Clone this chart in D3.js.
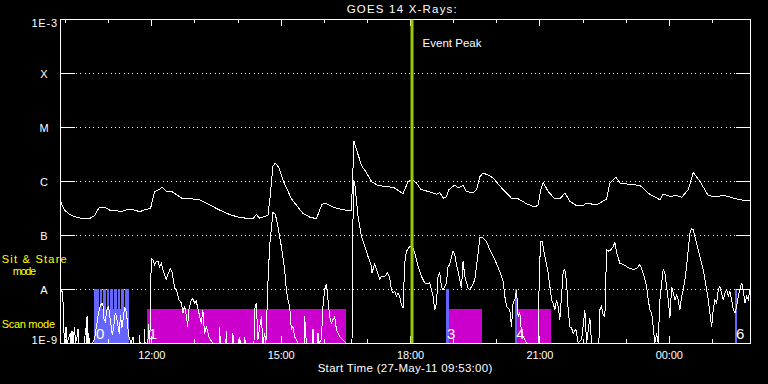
<!DOCTYPE html>
<html>
<head>
<meta charset="utf-8">
<script src="https://cdn.jsdelivr.net/npm/d3@7"></script>
<style>
  body { margin: 0; background: #000; }
  text { font-family: "Liberation Sans", Arial, sans-serif; }
</style>
</head>
<body>
<div id="chart"></div>
<script>
// time is in hours from 27-May-11 00:00, flux in W/m^2
const startHour = 9 + 53 / 60;      // 09:53:00
const endHour = startHour + 16;

const decadeValues = [1e-3, 1e-4, 1e-5, 1e-6, 1e-7, 1e-8, 1e-9];
const decadeLabels = ["1E-3", "X", "M", "C", "B", "A", "1E-9"];
const majorHours = [12, 15, 18, 21, 24];
const majorLabels = ["12:00", "15:00", "18:00", "21:00", "00:00"];
const minorHours = [10, 11, 13, 14, 16, 17, 19, 20, 22, 23, 25];

const eventPeakHour = 18.046;

// sit & stare (blue) and scan (magenta) periods
const stareBlocks = [[10.683, 11.472], [18.823, 18.899], [20.430, 20.476], [25.524, 25.587]];
const stareLabels = ["0", "3", "4", "6"];
const stareDwells = [10.683, 10.816, 10.892, 10.978, 11.054, 11.140, 11.217, 11.302, 11.379];
const scanBlocks = [[11.905, 16.520], [18.899, 19.673], [20.476, 21.280]];
const scanLabels = ["1", "", ""];
const stareLevel = 1e-8;
const scanLevel = 4.2e-9;

// 1-8 A channel
const longFlux = [
  [9.888,4.3e-7],[9.988,2.9e-7],[10.104,2.4e-7],[10.220,2.2e-7],[10.412,2.0e-7],[10.568,2.0e-7],
  [10.684,2.3e-7],[10.800,3.3e-7],[10.916,3.3e-7],[11.032,2.9e-7],[11.148,2.9e-7],[11.303,2.7e-7],
  [11.457,3.0e-7],[11.612,2.9e-7],[11.728,2.7e-7],[11.884,3.0e-7],[11.983,3.1e-7],[12.076,6.4e-7],
  [12.176,6.9e-7],[12.255,7.7e-7],[12.348,6.5e-7],[12.464,6.5e-7],[12.580,5.6e-7],[12.733,4.65e-7],
  [12.965,4.65e-7],[13.120,4.5e-7],[13.352,3.6e-7],[13.585,2.9e-7],[13.817,2.4e-7],[14.049,2.1e-7],
  [14.204,2.05e-7],[14.357,2.0e-7],[14.436,2.4e-7],[14.513,2.05e-7],[14.705,2.3e-7],[14.757,5.2e-7],
  [14.821,1.86e-6],[14.872,2.15e-6],[14.954,1.8e-6],[15.070,9.7e-7],[15.248,4.7e-7],[15.518,2.5e-7],
  [15.673,2.15e-7],[15.828,2.0e-7],[15.952,3.6e-7],[16.021,3.9e-7],[16.253,3.2e-7],[16.485,2.9e-7],
  [16.640,2.8e-7],[16.701,5.4e-6],[16.794,3.1e-6],[16.880,1.9e-6],[16.973,1.5e-6],[17.112,9.7e-7],
  [17.258,8.2e-7],[17.490,7.9e-7],[17.645,7.4e-7],[17.838,5.8e-7],[17.954,9.8e-7],[18.040,1.06e-6],
  [18.149,9.2e-7],[18.249,7.0e-7],[18.418,6.4e-7],[18.613,5.7e-7],[18.690,6.15e-7],[18.767,4.8e-7],
  [18.845,5.1e-7],[18.899,6.9e-7],[19.038,8.4e-7],[19.114,7.4e-7],[19.230,8.2e-7],[19.309,6.4e-7],
  [19.462,6.0e-7],[19.541,6.9e-7],[19.618,1.2e-6],[19.694,1.4e-6],[19.803,1.3e-6],[19.926,1.14e-6],
  [20.158,6.9e-7],[20.353,4.8e-7],[20.506,4.7e-7],[20.701,3.8e-7],[20.894,3.3e-7],[20.970,3.6e-7],
  [21.033,6.9e-7],[21.087,9.4e-7],[21.203,6.4e-7],[21.358,4.65e-7],[21.474,4.65e-7],[21.590,6.0e-7],
  [21.706,4.2e-7],[21.862,3.5e-7],[22.015,3.5e-7],[22.094,3.9e-7],[22.326,3.6e-7],[22.558,4.65e-7],
  [22.635,9.2e-7],[22.775,1.17e-6],[22.868,9.2e-7],[23.100,8.6e-7],[23.332,8.3e-7],[23.564,5.6e-7],
  [23.796,4.5e-7],[23.872,5.7e-7],[24.028,5.2e-7],[24.183,5.35e-7],[24.299,5.0e-7],[24.452,6.9e-7],
  [24.568,1.44e-6],[24.724,9.8e-7],[24.916,5.35e-7],[25.111,5.1e-7],[25.227,5.4e-7],[25.380,5.2e-7],
  [25.496,4.8e-7],[25.728,4.4e-7],[25.883,4.4e-7]
];

// 0.5-4 A channel
const shortFlux = [
  [9.888,1.98e-8],[9.907,9.7e-9],[9.948,8.4e-9],[9.965,2.4e-9],[9.988,1e-9],[10.023,2.0e-9],
  [10.046,1e-9],[10.120,1.5e-9],[10.139,1e-9],[10.162,1.7e-9],[10.185,1e-9],[10.220,2.0e-9],
  [10.243,1e-9],[10.278,1.3e-9],[10.301,1.8e-9],[10.324,1e-9],[10.452,1e-9],[10.475,1.9e-9],
  [10.498,1e-9],[10.510,3.1e-9],[10.533,1e-9],[10.545,1.5e-9],[10.568,1e-9],[10.637,1e-9],
  [10.684,1.2e-9],[10.723,1.9e-9],[10.777,3.6e-9],[10.823,5.1e-9],[10.877,5.5e-9],[10.900,2.8e-9],
  [10.932,2.5e-9],[10.979,4.4e-9],[11.009,4.7e-9],[11.055,2.5e-9],[11.095,1.4e-9],[11.132,2.1e-9],
  [11.164,3.6e-9],[11.194,3.1e-9],[11.225,2.1e-9],[11.257,1.5e-9],[11.287,3.3e-9],[11.317,1.9e-9],
  [11.350,2.8e-9],[11.380,4.7e-9],[11.426,3.6e-9],[11.457,1.9e-9],[11.480,1.3e-9],[11.535,1e-9],
  [11.577,1.3e-9],[11.600,1e-9],[11.716,1e-9],[11.728,1.4e-9],[11.740,1e-9],[11.832,1e-9],
  [11.844,1.8e-9],[11.856,1e-9],[11.921,1e-9],[11.937,2.2e-9],[11.965,1e-9],[11.983,6.3e-9],
  [12.000,3.7e-8],[12.037,3.5e-8],[12.076,2.8e-8],[12.116,3.3e-8],[12.153,3.3e-8],[12.192,2.6e-8],
  [12.231,3.0e-8],[12.285,2.1e-8],[12.348,1.5e-8],[12.385,1.85e-8],[12.440,2.35e-8],[12.487,2.0e-8],
  [12.540,1.05e-8],[12.594,9.0e-9],[12.640,6.3e-9],[12.696,5.5e-9],[12.733,3.6e-9],[12.772,4.8e-9],
  [12.812,3.3e-9],[12.842,2.0e-9],[12.872,4.1e-9],[12.928,6.3e-9],[12.965,6.6e-9],[13.004,5.5e-9],
  [13.044,5.9e-9],[13.104,3.6e-9],[13.160,2.3e-9],[13.197,4.1e-9],[13.236,1.5e-9],[13.276,2.0e-9],
  [13.352,1.2e-9],[13.429,1e-9],[13.573,1e-9],[13.585,2.0e-9],[13.601,1e-9],[13.729,1e-9],
  [13.740,1.7e-9],[13.754,1e-9],[13.881,1e-9],[13.893,1.5e-9],[13.909,1e-9],[14.037,1e-9],
  [14.049,1.3e-9],[14.065,1e-9],[14.153,1e-9],[14.165,1.3e-9],[14.181,1e-9],[14.381,1e-9],
  [14.397,4.1e-9],[14.436,5.5e-9],[14.473,1.15e-9],[14.552,3.1e-9],[14.589,1e-9],[14.628,1.5e-9],
  [14.658,1e-9],[14.705,1.3e-8],[14.744,6.15e-8],[14.821,2.6e-7],[14.877,2.4e-7],[14.937,1.44e-7],
  [15.016,6.15e-8],[15.093,2.3e-8],[15.132,9.7e-9],[15.169,6.3e-9],[15.209,4.8e-9],[15.248,1.8e-9],
  [15.285,2.0e-9],[15.325,1.3e-9],[15.401,1e-9],[15.545,1e-9],[15.557,3.1e-9],[15.596,1e-9],
  [15.738,1e-9],[15.750,1.8e-9],[15.766,1e-9],[15.859,1e-9],[15.866,1.5e-9],[15.882,1e-9],
  [15.944,1.15e-9],[15.981,4.8e-9],[16.021,9.7e-9],[16.060,1.25e-8],[16.097,6.3e-9],[16.137,3.1e-9],
  [16.176,2.3e-9],[16.213,2.7e-9],[16.253,3.1e-9],[16.292,1.8e-9],[16.369,1.3e-9],[16.446,1.15e-9],
  [16.508,1e-9],[16.654,1e-9],[16.671,5.35e-8],[16.687,1.06e-6],[16.717,9.2e-7],[16.794,2.2e-7],
  [16.873,9.4e-8],[16.949,6.15e-8],[17.026,4.0e-8],[17.105,2.6e-8],[17.119,2.0e-8],[17.181,2.9e-8],
  [17.221,2.3e-8],[17.297,1.5e-8],[17.337,1.7e-8],[17.413,1.7e-8],[17.476,2.0e-8],[17.529,1.6e-8],
  [17.569,9.7e-9],[17.606,8.4e-9],[17.645,9.0e-9],[17.685,7.3e-9],[17.722,8.4e-9],[17.761,7.3e-9],
  [17.801,5.1e-9],[17.838,4.4e-9],[17.877,3.0e-8],[17.917,5.0e-8],[17.993,6.15e-8],[18.070,5.8e-8],
  [18.109,4.65e-8],[18.149,3.5e-8],[18.186,2.6e-8],[18.265,1.7e-8],[18.341,1.3e-8],[18.418,1.25e-8],
  [18.458,1.3e-8],[18.534,7.3e-9],[18.573,4.1e-9],[18.613,5.5e-9],[18.650,1.7e-8],[18.689,2.0e-8],
  [18.729,1.1e-8],[18.766,9.7e-9],[18.845,1.3e-8],[18.882,2.6e-8],[18.921,2.85e-8],[18.998,5.0e-8],
  [19.038,4.3e-8],[19.077,2.85e-8],[19.154,1.5e-8],[19.193,1.05e-8],[19.230,3.3e-8],[19.270,1.7e-8],
  [19.346,1.05e-8],[19.386,9.7e-9],[19.462,1.25e-8],[19.502,1.5e-8],[19.578,4.65e-8],[19.618,8.8e-8],
  [19.694,8.8e-8],[19.773,7.6e-8],[19.850,5.35e-8],[19.966,3.5e-8],[20.082,2.1e-8],[20.158,1.4e-8],
  [20.198,7.3e-9],[20.237,4.8e-9],[20.314,4.1e-9],[20.353,2.0e-9],[20.390,5.5e-9],[20.430,6.3e-9],
  [20.469,9.7e-9],[20.506,3.1e-9],[20.546,3.6e-9],[20.585,1.5e-9],[20.622,1.3e-9],[20.662,1.15e-9],
  [20.701,1e-9],[20.970,1e-9],[20.994,1.3e-8],[21.026,7.6e-8],[21.064,7.6e-8],[21.126,4.0e-8],
  [21.203,2.0e-8],[21.282,6.3e-9],[21.319,5.5e-9],[21.358,4.1e-9],[21.398,6.3e-9],[21.435,4.8e-9],
  [21.474,2.7e-9],[21.513,7.3e-9],[21.551,2.1e-8],[21.590,2.3e-8],[21.630,1.3e-8],[21.667,4.1e-9],
  [21.706,2.0e-9],[21.746,1.9e-9],[21.783,1.5e-9],[21.846,1.8e-9],[21.899,1e-9],[21.978,1.15e-9],
  [22.054,4.1e-9],[22.094,1e-9],[22.170,2.9e-9],[22.210,1e-9],[22.379,1e-9],[22.402,4.1e-9],
  [22.442,4.8e-9],[22.479,3.3e-9],[22.518,3.1e-9],[22.558,5.35e-8],[22.611,5.0e-8],[22.674,5.5e-8],
  [22.711,6.15e-8],[22.750,7.3e-8],[22.790,4.65e-8],[22.866,3.0e-8],[22.943,2.85e-8],[23.022,2.6e-8],
  [23.098,2.4e-8],[23.175,2.3e-8],[23.254,2.4e-8],[23.331,2.85e-8],[23.393,2.1e-8],[23.447,1.5e-8],
  [23.486,1.1e-8],[23.523,6.3e-9],[23.563,4.1e-9],[23.602,3.6e-9],[23.639,2.0e-9],[23.676,1e-9],
  [23.718,1.5e-9],[23.755,1e-9],[23.794,6.3e-9],[23.834,1.3e-8],[23.871,2.3e-8],[23.910,2.0e-8],
  [23.950,1.1e-8],[23.987,6.3e-9],[24.026,2.9e-9],[24.066,1.1e-8],[24.103,8.4e-9],[24.142,6.3e-9],
  [24.182,7.6e-9],[24.219,6.3e-9],[24.258,4.1e-9],[24.298,7.3e-9],[24.335,9.7e-9],[24.374,1.5e-8],
  [24.414,2.6e-8],[24.451,5.35e-8],[24.490,1.09e-7],[24.530,1.3e-7],[24.567,1.25e-7],[24.606,9.4e-8],
  [24.646,7.1e-8],[24.723,4.0e-8],[24.799,2.3e-8],[24.878,9.7e-9],[24.915,6.3e-9],[24.954,3.6e-9],
  [24.994,2.0e-9],[25.031,4.1e-9],[25.070,6.3e-9],[25.110,5.5e-9],[25.147,9.7e-9],[25.186,1.1e-8],
  [25.226,8.4e-9],[25.263,6.3e-9],[25.302,8.4e-9],[25.342,9.7e-9],[25.379,7.3e-9],[25.418,9.0e-9],
  [25.458,6.3e-9],[25.495,4.1e-9],[25.534,3.6e-9],[25.574,4.8e-9],[25.611,7.3e-9],[25.650,9.7e-9],
  [25.690,1.3e-8],[25.727,9.7e-9],[25.766,5.5e-9],[25.806,7.3e-9],[25.843,6.3e-9],[25.882,9.7e-9]
];

let width = 768,
    height = 384;
let svg = d3.select("div#chart").append("svg")
            .attr("width", width)
            .attr("height", height)
            .style("background", "#000");

const x = d3.scaleLinear().domain([startHour, endHour]).range([60, 750]);
const y = d3.scaleLog().domain([1e-9, 1e-3]).range([343, 19]).clamp(true);

//dotted grid at each decade
svg.selectAll("line.grid")
  .data(decadeValues.slice(1, -1))
  .enter().append("line")
  .attr("class", "grid")
  .attr("x1", 76).attr("x2", 736)
  .attr("y1", d => y(d) + 0.5).attr("y2", d => y(d) + 0.5)
  .attr("stroke", "#fff")
  .attr("stroke-dasharray", "1,3.33")
  .attr("shape-rendering", "crispEdges");

//sit & stare boxes (blue)
const blue = "#6666ff", magenta = "#cc00cc";
stareBlocks.forEach((b, i) => {
  svg.append("rect")
    .attr("x", x(b[0])).attr("y", y(scanLevel))
    .attr("width", x(b[1]) - x(b[0])).attr("height", y(1e-9) - y(scanLevel))
    .attr("fill", blue).attr("shape-rendering", "crispEdges");
  let dwells = stareDwells.filter(t => t >= b[0] && t < b[1]);
  if (dwells.length === 0) dwells = [b[0]];
  dwells.forEach((t, j) => {
    let last = j === dwells.length - 1;
    let x1 = last ? x(b[1]) : x(dwells[j + 1]) - 1;
    svg.append("rect")
      .attr("x", x(t)).attr("y", y(stareLevel))
      .attr("width", Math.max(x1 - x(t), 1)).attr("height", y(1e-9) - y(stareLevel))
      .attr("fill", blue).attr("shape-rendering", "crispEdges");
  });
});
//scan boxes (magenta)
svg.selectAll("rect.scan")
  .data(scanBlocks)
  .enter().append("rect")
  .attr("class", "scan")
  .attr("x", d => x(d[0])).attr("y", y(scanLevel))
  .attr("width", d => x(d[1]) - x(d[0])).attr("height", y(1e-9) - y(scanLevel))
  .attr("fill", magenta).attr("shape-rendering", "crispEdges");

//axes
function styleAxis(g) {
  g.selectAll("path, line").attr("stroke", "#fff").attr("shape-rendering", "crispEdges");
  g.selectAll("text").remove();
}
svg.append("g").attr("transform", "translate(60,0)")
  .call(d3.axisRight(y).tickValues(decadeValues).tickSize(14.5).tickSizeOuter(0).tickFormat(""))
  .call(styleAxis);
svg.append("g").attr("transform", "translate(750,0)")
  .call(d3.axisLeft(y).tickValues(decadeValues).tickSize(14.5).tickSizeOuter(0).tickFormat(""))
  .call(styleAxis);
svg.append("g").attr("transform", "translate(0,19)")
  .call(d3.axisBottom(x).tickValues(majorHours).tickSize(7).tickSizeOuter(0).tickFormat(""))
  .call(styleAxis);
svg.append("g").attr("transform", "translate(0,19)")
  .call(d3.axisBottom(x).tickValues(minorHours).tickSize(4).tickSizeOuter(0).tickFormat(""))
  .call(styleAxis);
svg.append("g").attr("transform", "translate(0,343)")
  .call(d3.axisTop(x).tickValues(majorHours).tickSize(7).tickSizeOuter(0).tickFormat(""))
  .call(styleAxis);
svg.append("g").attr("transform", "translate(0,343)")
  .call(d3.axisTop(x).tickValues(minorHours).tickSize(4).tickSizeOuter(0).tickFormat(""))
  .call(styleAxis);

//flux curves
let line = d3.line().x(d => x(d[0])).y(d => y(d[1]));
[longFlux, shortFlux].forEach(series => {
  svg.append("path")
    .attr("d", line(series))
    .attr("fill", "none")
    .attr("stroke", "#fff")
    .attr("stroke-width", 1)
    .attr("shape-rendering", "crispEdges");
});

//event peak
svg.append("line")
  .attr("x1", x(eventPeakHour)).attr("x2", x(eventPeakHour))
  .attr("y1", 19.5).attr("y2", 343)
  .attr("stroke", "#99cc00")
  .attr("stroke-width", 3);
svg.append("text")
  .attr("x", x(eventPeakHour) + 10.5).attr("y", 46.7)
  .attr("fill", "#fff").style("font-size", "11.5px")
  .attr("textLength", 59).attr("lengthAdjust", "spacing")
  .text("Event Peak");

//box numbers
stareBlocks.forEach((b, i) => {
  svg.append("text")
    .attr("x", x(b[0]) + 1.5).attr("y", 338.5)
    .attr("fill", "#fff").style("font-size", "15px")
    .text(stareLabels[i]);
});
scanBlocks.forEach((b, i) => {
  svg.append("text")
    .attr("x", x(b[0]) + 1.5).attr("y", 338.5)
    .attr("fill", "#fff").style("font-size", "15px")
    .text(scanLabels[i]);
});

//y labels
svg.selectAll("text.ylab")
  .data(decadeValues)
  .enter().append("text")
  .attr("class", "ylab")
  .attr("x", (d, i) => decadeLabels[i].startsWith("1E") ? 57 : 44)
  .attr("y", d => Math.min(Math.max(y(d) + 4.5, 27), 343.7))
  .attr("text-anchor", (d, i) => decadeLabels[i].startsWith("1E") ? "end" : "middle")
  .attr("fill", "#fff").style("font-size", "11px")
  .attr("textLength", (d, i) => decadeLabels[i].startsWith("1E") ? 25.5 : null)
  .text((d, i) => decadeLabels[i]);

//x labels
svg.selectAll("text.xlab")
  .data(majorHours)
  .enter().append("text")
  .attr("class", "xlab")
  .attr("x", d => x(d) + 0.5).attr("y", 358.7)
  .attr("text-anchor", "middle")
  .attr("fill", "#fff").style("font-size", "11px")
  .attr("textLength", 27).attr("lengthAdjust", "spacing")
  .text((d, i) => majorLabels[i]);

svg.append("text")
  .attr("x", 405).attr("y", 371.7)
  .attr("text-anchor", "middle")
  .attr("fill", "#fff").style("font-size", "11.5px")
  .attr("textLength", 174.7).attr("lengthAdjust", "spacing")
  .text("Start Time (27-May-11 09:53:00)");

svg.append("text")
  .attr("x", 401.7).attr("y", 13.3)
  .attr("text-anchor", "middle")
  .attr("fill", "#fff").style("font-size", "11.5px")
  .attr("textLength", 110).attr("lengthAdjust", "spacing")
  .text("GOES 14 X-Rays:");

//mode labels
const yellow = "#ffff00";
svg.append("text").attr("x", 1.7).attr("y", 263.3)
  .attr("fill", yellow).style("font-size", "11px")
  .attr("textLength", 65).attr("lengthAdjust", "spacing")
  .text("Sit & Stare");
svg.append("text").attr("x", 12.7).attr("y", 275)
  .attr("fill", yellow).style("font-size", "11px")
  .attr("textLength", 23.3).attr("lengthAdjust", "spacing")
  .text("mode");
svg.append("text").attr("x", 1.7).attr("y", 328.3)
  .attr("fill", yellow).style("font-size", "11px")
  .attr("textLength", 53.3).attr("lengthAdjust", "spacing")
  .text("Scan mode");
</script>
</body>
</html>
